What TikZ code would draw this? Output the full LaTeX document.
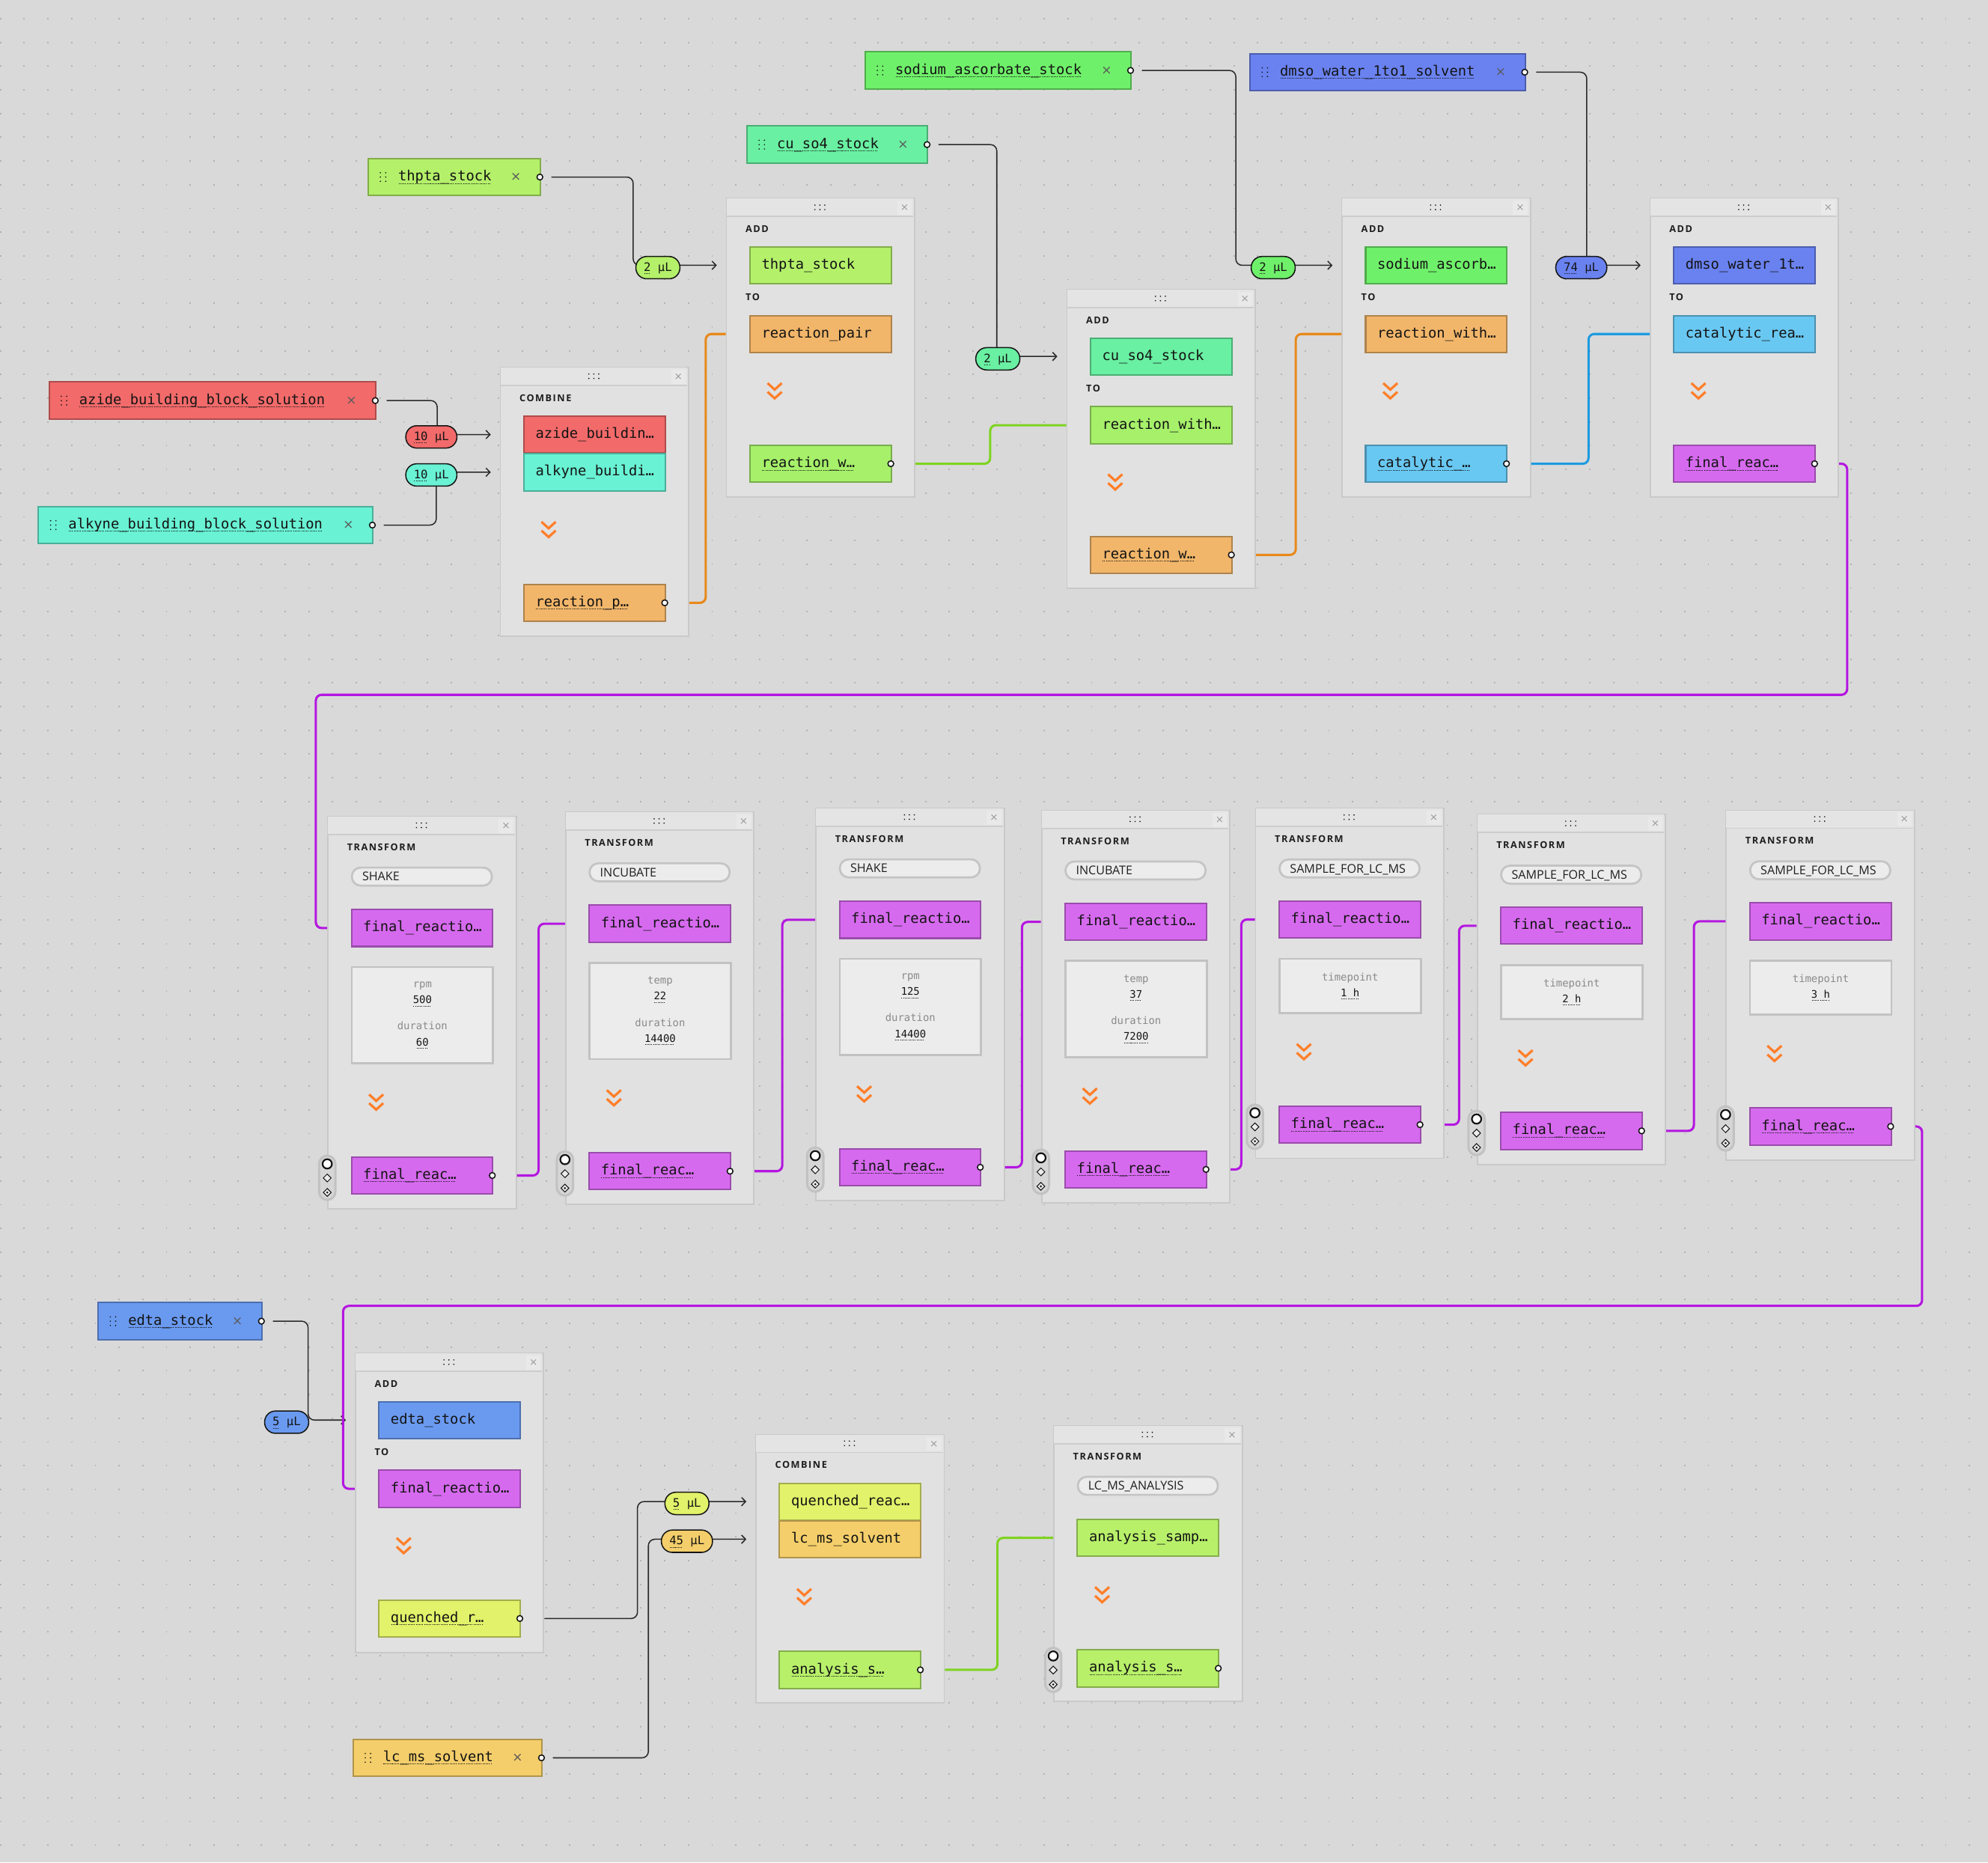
\documentclass[tikz,border=0pt]{standalone}
\usepackage{fontspec}
\setmainfont{DejaVu Sans}
\setmonofont{DejaVu Sans Mono}
\setsansfont{Open Sans}
\newfontfamily\hdrfont[LetterSpace=12]{Open Sans}
\usetikzlibrary{arrows.meta, calc}

\definecolor{bgC}{HTML}{D9D9D9}
\definecolor{dotC}{HTML}{B3B3B3}
\definecolor{cardC}{HTML}{E1E1E1}
\definecolor{cardLine}{HTML}{C9C9C9}
\definecolor{hdrC}{HTML}{E4E4E4}
\definecolor{hdrLine}{HTML}{CDCDCD}
\definecolor{xboxC}{HTML}{E9E9E9}
\definecolor{hdrXC}{HTML}{9A9A9A}
\definecolor{xC}{HTML}{5A5A5A}
\definecolor{inkC}{HTML}{141414}
\definecolor{lblC}{HTML}{1E1E1E}
\definecolor{redC}{HTML}{F26A6A}
\definecolor{aquaC}{HTML}{69F2D4}
\definecolor{limeC}{HTML}{B4F06A}
\definecolor{mintC}{HTML}{69F0A2}
\definecolor{greenC}{HTML}{6FF06A}
\definecolor{blueC}{HTML}{6A82F0}
\definecolor{skyC}{HTML}{69C8F2}
\definecolor{magC}{HTML}{D66AEF}
\definecolor{orangeC}{HTML}{F2B66A}
\definecolor{rgreenC}{HTML}{A6F06A}
\definecolor{edtaC}{HTML}{6A9AF0}
\definecolor{quenchC}{HTML}{E2F26A}
\definecolor{solvC}{HTML}{F4CE6A}
\definecolor{anaC}{HTML}{B8F06A}
\definecolor{wireC}{HTML}{2A2A2A}
\definecolor{wireOr}{HTML}{E8891A}
\definecolor{wireGr}{HTML}{7ED321}
\definecolor{wireBl}{HTML}{1E9BE0}
\definecolor{wireMg}{HTML}{B416E0}
\definecolor{chevC}{HTML}{FF7F2A}
\definecolor{parlC}{HTML}{8A8A8A}
\definecolor{parC}{HTML}{ECECEC}
\definecolor{parLine}{HTML}{C2C2C2}
\definecolor{pillC}{HTML}{ECECEC}
\definecolor{pillLine}{HTML}{C4C4C4}
\definecolor{knobC}{HTML}{D6D6D6}
\definecolor{knobLine}{HTML}{C2C2C2}

% dotted underline
\newsavebox{\dulbox}
\newcommand{\dul}[1]{\sbox{\dulbox}{#1}%
  \rlap{\hbox to \wd\dulbox{\leaders\hbox to 1.3pt{\hss\rule[-2.2pt]{0.6pt}{0.5pt}\hss}\hfill}}%
  \usebox{\dulbox}}

\tikzset{
  card/.style={draw=cardLine, fill=cardC, line width=1.1pt, anchor=north west,
    minimum width=148.5pt, inner sep=0pt},
  hdrx/.style={inner sep=0pt, text=hdrXC, font=\fontsize{8}{9}\selectfont},
  item/.style={draw=#1!72!black, fill=#1, line width=1.2pt, anchor=north west,
    minimum height=29.1pt, text width=93pt, inner xsep=9.25pt, inner ysep=0pt,
    align=left, text height=6pt, text depth=0pt, text=inkC,
    font=\ttfamily\fontsize{11.1}{13}\selectfont},
  stock/.style={draw=#1!72!black, fill=#1, line width=1.2pt, anchor=north west,
    minimum height=29.3pt, inner sep=0pt},
  stocktxt/.style={anchor=west, inner sep=0pt, text height=6pt, text depth=0pt,
    text=inkC, font=\ttfamily\fontsize{11.1}{13}\selectfont},
  stockx/.style={inner sep=0pt, text=xC, font=\fontsize{10}{12}\selectfont},
  amount/.style={draw=inkC, fill=#1, line width=0.9pt, rounded corners=8.6pt,
    minimum height=17.6pt, inner xsep=6.3pt, inner ysep=0pt, text height=5.6pt,
    text depth=0pt, text=inkC, font=\ttfamily\fontsize{9.2}{11}\selectfont},
  oplbl/.style={anchor=west, inner sep=0pt, text height=5.4pt, text depth=0pt,
    text=lblC, font=\hdrfont\bfseries\fontsize{7.5}{9}\selectfont},
  oppill/.style={draw=pillLine, fill=pillC, line width=1.6pt, rounded corners=7pt,
    anchor=north west, minimum width=110.5pt, minimum height=14.2pt, text width=94pt,
    inner xsep=8.25pt, inner ysep=0pt, align=left, text height=6.8pt, text depth=0pt,
    text=lblC, font=\sffamily\fontsize{9.5}{11}\selectfont},
  params/.style={draw=parLine, fill=parC, line width=1.6pt, anchor=north west,
    minimum width=111.5pt, inner sep=0pt, align=center, text=inkC,
    font=\ttfamily\fontsize{8.2}{12.5}\selectfont},
  wire/.style={draw=wireC, line width=0.9pt, rounded corners=5pt},
  flow/.style={draw=#1, line width=1.8pt, rounded corners=4.5pt},
  chev/.style={draw=chevC, line width=1.9pt},
  port/.style={draw=inkC, fill=white, line width=0.9pt},
  knob/.style={draw=knobLine, fill=knobC, line width=1.8pt, rounded corners=6.4pt},
  dotgrid/.style={draw=dotC, line width=1.1pt, dash pattern=on 1.1pt off 17.61pt},
}

\begin{document}
\begin{tikzpicture}[x=1pt, y=-1pt, >={Straight Barb[length=3.2pt,width=6.6pt]}]
% === 0. CANVAS ===
\useasboundingbox (0,0) rectangle (1568,1469);
\fill[bgC] (0,0) rectangle (1568,1469);
\foreach \i in {0,1,...,83}
  \draw[dotgrid] (\i*18.71+0.4,14.15) -- (\i*18.71+0.4,1469);

% === 1. STOCK SOURCES ===
\node[stock=limeC, minimum width=135.9pt] (thpta) at (289.7,124.4) {};
\node[stocktxt] (thpta-t) at ($(thpta.west)+(24.2,0)$) {\dul{thpta\_stock}};
\node[stock=mintC, minimum width=142.6pt] (cuso4) at (588.4,98.8) {};
\node[stocktxt] (cuso4-t) at ($(cuso4.west)+(24.2,0)$) {\dul{cu\_so4\_stock}};
\node[stock=greenC, minimum width=209.8pt] (sodium) at (681.7,40.3) {};
\node[stocktxt] (sodium-t) at ($(sodium.west)+(24.2,0)$) {\dul{sodium\_ascorbate\_stock}};
\node[stock=blueC, minimum width=217.2pt] (dmso) at (985.2,41.7) {};
\node[stocktxt] (dmso-t) at ($(dmso.west)+(24.2,0)$) {\dul{dmso\_water\_1to1\_solvent}};
\node[stock=redC, minimum width=257.7pt] (azide) at (38.1,300.7) {};
\node[stocktxt] (azide-t) at ($(azide.west)+(24.2,0)$) {\dul{azide\_building\_block\_solution}};
\node[stock=aquaC, minimum width=263.9pt] (alkyne) at (29.6,398.9) {};
\node[stocktxt] (alkyne-t) at ($(alkyne.west)+(24.2,0)$) {\dul{alkyne\_building\_block\_solution}};
\node[stock=edtaC, minimum width=129.3pt] (edta) at (76.7,1026.8) {};
\node[stocktxt] (edta-t) at ($(edta.west)+(24.2,0)$) {\dul{edta\_stock}};
\node[stock=solvC, minimum width=149.1pt] (lcms) at (277.8,1371.2) {};
\node[stocktxt] (lcms-t) at ($(lcms.west)+(24.2,0)$) {\dul{lc\_ms\_solvent}};

\foreach \p in {thpta,cuso4,sodium,dmso,azide,alkyne,edta,lcms} {
  \node[stockx] (\p-x) at ($(\p.east)+(-19.9,0)$) {×};
  \foreach \dy in {-3.4,0,3.4}
    \fill[inkC] ($(\p.west)+(10.3,\dy)$) circle[radius=0.55pt]
                ($(\p.west)+(14.5,\dy)$) circle[radius=0.55pt];
}

% === 2. OPERATION CARDS (frame + header) ===
\foreach \n/\x/\y/\h in {A/394.1/289.3/211.7, B/572.4/156.1/235.5, C/841/228/235.5,
    D/1058/156.1/235.5, E/1301/156.1/235.5, F/258.1/643.5/309.3, G/445.6/640.1/309.3,
    H/643/637/309.3, I/821/638.7/309.3, J/989.8/637.1/275.9, K/1164.6/642/275.9,
    L/1361/638.5/275.9, M/279.8/1066.9/235.8, N/595.7/1130.9/211.7, O/830.7/1124/217.4} {
  \node[card, minimum height=\h*1pt] (card\n) at (\x,\y) {};
  \fill[hdrC] (\x+0.6,\y+0.6) rectangle (\x+147.9,\y+14.7);
  \draw[hdrLine, line width=1.1pt] (\x+0.6,\y+14.7) -- (\x+147.9,\y+14.7);
  \fill[xboxC] (\x+135.3,\y+2.3) rectangle (\x+146.7,\y+13.4);
  \node[hdrx] (card\n-x) at (\x+141,\y+7.9) {×};
  \foreach \i in {-1,0,1}
    \fill[inkC] (\x+74.25+\i*3.9,\y+5.7) circle[radius=0.55pt]
                (\x+74.25+\i*3.9,\y+9.2) circle[radius=0.55pt];
}

% === 3. CARD LABELS ===
\node[oplbl] (cardA-op) at (409.6,313.8) {COMBINE};
\node[oplbl] (cardB-op) at (587.9,180.6) {ADD};
\node[oplbl] (cardB-to) at (587.9,234.6) {TO};
\node[oplbl] (cardC-op) at (856.5,252.5) {ADD};
\node[oplbl] (cardC-to) at (856.5,306.5) {TO};
\node[oplbl] (cardD-op) at (1073.5,180.6) {ADD};
\node[oplbl] (cardD-to) at (1073.5,234.6) {TO};
\node[oplbl] (cardE-op) at (1316.5,180.6) {ADD};
\node[oplbl] (cardE-to) at (1316.5,234.6) {TO};
\node[oplbl] (cardF-op) at (273.6,668.2) {TRANSFORM};
\node[oplbl] (cardG-op) at (461.1,664.8) {TRANSFORM};
\node[oplbl] (cardH-op) at (658.5,661.7) {TRANSFORM};
\node[oplbl] (cardI-op) at (836.5,663.4) {TRANSFORM};
\node[oplbl] (cardJ-op) at (1005.3,661.6) {TRANSFORM};
\node[oplbl] (cardK-op) at (1180.1,666.5) {TRANSFORM};
\node[oplbl] (cardL-op) at (1376.5,663) {TRANSFORM};
\node[oplbl] (cardM-op) at (295.3,1091.4) {ADD};
\node[oplbl] (cardM-to) at (295.3,1145.4) {TO};
\node[oplbl] (cardN-op) at (611.2,1155.4) {COMBINE};
\node[oplbl] (cardO-op) at (846.2,1148.6) {TRANSFORM};

% === 4. TRANSFORM KIND PILLS ===
\node[oppill] (fKind) at (276.7,683.5) {SHAKE};
\node[oppill] (gKind) at (464.2,680.1) {INCUBATE};
\node[oppill] (hKind) at (661.6,677) {SHAKE};
\node[oppill] (iKind) at (839.6,678.7) {INCUBATE};
\node[oppill] (jKind) at (1008.4,677.1) {SAMPLE\_FOR\_LC\_MS};
\node[oppill] (kKind) at (1183.2,682) {SAMPLE\_FOR\_LC\_MS};
\node[oppill] (lKind) at (1379.6,678.5) {SAMPLE\_FOR\_LC\_MS};
\node[oppill] (oKind) at (849.3,1164) {LC\_MS\_ANALYSIS};

% === 5. CARD ITEMS ===
\node[item=redC] (aIn1) at (412.6,327.6) {azide\_buildin…};
\node[item=aquaC] (aIn2) at (412.6,357.3) {alkyne\_buildi…};
\node[item=orangeC] (aOut) at (412.6,460.3) {\dul{reaction\_p…}};
\node[item=limeC] (bIn1) at (590.9,194.1) {thpta\_stock};
\node[item=orangeC] (bIn2) at (590.9,248.3) {reaction\_pair};
\node[item=rgreenC] (bOut) at (590.9,350.6) {\dul{reaction\_w…}};
\node[item=mintC] (cIn1) at (859.5,266) {cu\_so4\_stock};
\node[item=rgreenC] (cIn2) at (859.5,320.2) {reaction\_with…};
\node[item=orangeC] (cOut) at (859.5,422.5) {\dul{reaction\_w…}};
\node[item=greenC] (dIn1) at (1076.5,194.1) {sodium\_ascorb…};
\node[item=orangeC] (dIn2) at (1076.5,248.3) {reaction\_with…};
\node[item=skyC] (dOut) at (1076.5,350.6) {\dul{catalytic\_…}};
\node[item=blueC] (eIn1) at (1319.5,194.1) {dmso\_water\_1t…};
\node[item=skyC] (eIn2) at (1319.5,248.3) {catalytic\_rea…};
\node[item=magC] (eOut) at (1319.5,350.6) {\dul{final\_reac…}};
\node[item=magC] (fIn1) at (276.6,716.8) {final\_reactio…};
\node[item=magC] (fOut) at (276.6,912) {\dul{final\_reac…}};
\node[item=magC] (gIn1) at (464.1,713.4) {final\_reactio…};
\node[item=magC] (gOut) at (464.1,908.6) {\dul{final\_reac…}};
\node[item=magC] (hIn1) at (661.5,710.3) {final\_reactio…};
\node[item=magC] (hOut) at (661.5,905.5) {\dul{final\_reac…}};
\node[item=magC] (iIn1) at (839.5,712) {final\_reactio…};
\node[item=magC] (iOut) at (839.5,907.2) {\dul{final\_reac…}};
\node[item=magC] (jIn1) at (1008.3,710.1) {final\_reactio…};
\node[item=magC] (jOut) at (1008.3,871.9) {\dul{final\_reac…}};
\node[item=magC] (kIn1) at (1183.1,715) {final\_reactio…};
\node[item=magC] (kOut) at (1183.1,876.8) {\dul{final\_reac…}};
\node[item=magC] (lIn1) at (1379.5,711.5) {final\_reactio…};
\node[item=magC] (lOut) at (1379.5,873.3) {\dul{final\_reac…}};
\node[item=edtaC] (mIn1) at (298.3,1104.9) {edta\_stock};
\node[item=magC] (mIn2) at (298.3,1159.1) {final\_reactio…};
\node[item=quenchC] (mOut) at (298.3,1261.4) {\dul{quenched\_r…}};
\node[item=quenchC] (nIn1) at (614.2,1169.2) {quenched\_reac…};
\node[item=solvC] (nIn2) at (614.2,1198.9) {lc\_ms\_solvent};
\node[item=anaC] (nOut) at (614.2,1301.9) {\dul{analysis\_s…}};
\node[item=anaC] (oIn1) at (849.2,1197.8) {analysis\_samp…};
\node[item=anaC] (oOut) at (849.2,1300.7) {\dul{analysis\_s…}};

% === 6. PARAMETERS ===
\node[params, minimum height=76pt] (fPar) at (276.6,761.9)
  {{\color{parlC}rpm}\\\dul{500}\\[8.3pt]{\color{parlC}duration}\\\dul{60}};
\node[params, minimum height=76pt] (gPar) at (464.1,758.5)
  {{\color{parlC}temp}\\\dul{22}\\[8.3pt]{\color{parlC}duration}\\\dul{14400}};
\node[params, minimum height=76pt] (hPar) at (661.5,755.4)
  {{\color{parlC}rpm}\\\dul{125}\\[8.3pt]{\color{parlC}duration}\\\dul{14400}};
\node[params, minimum height=76pt] (iPar) at (839.5,757.1)
  {{\color{parlC}temp}\\\dul{37}\\[8.3pt]{\color{parlC}duration}\\\dul{7200}};
\node[params, minimum height=42.6pt] (jPar) at (1008.3,755.5)
  {{\color{parlC}timepoint}\\\dul{1 h}};
\node[params, minimum height=42.6pt] (kPar) at (1183.1,760.4)
  {{\color{parlC}timepoint}\\\dul{2 h}};
\node[params, minimum height=42.6pt] (lPar) at (1379.5,756.9)
  {{\color{parlC}timepoint}\\\dul{3 h}};

% === 7. CHEVRONS ===
\foreach \x/\y in {432.7/417.9, 611/308.5, 879.6/380.4, 1096.6/308.5, 1339.6/308.5,
    296.7/869.5, 484.2/866.1, 681.6/863, 859.6/864.7, 1028.4/829.7, 1203.2/834.6,
    1399.6/831.1, 318.4/1219.3, 634.3/1259.5, 869.3/1258} {
  \draw[chev] (\x-5.6,\y-6.3) -- (\x,\y-1.2) -- (\x+5.6,\y-6.3);
  \draw[chev] (\x-5.6,\y+0.6) -- (\x,\y+5.7) -- (\x+5.6,\y+0.6);
}

% === 8. KNOBS ON TRANSFORM CARDS ===
\foreach \x/\y in {258.1/911.6, 445.6/908.2, 643/905.1, 821/906.8, 989.8/871.3,
    1164.6/876.2, 1361/872.7, 830.7/1299.7} {
  \draw[knob] (\x-6.4,\y) rectangle (\x+6.4,\y+34.8);
  \draw[port, line width=1.3pt] (\x,\y+6.4) circle[radius=3.7pt];
  \draw[inkC, fill=parC, line width=0.6pt] (\x,\y+14.4) -- (\x+3.1,\y+17.5)
    -- (\x,\y+20.6) -- (\x-3.1,\y+17.5) -- cycle;
  \draw[inkC, fill=parC, line width=0.6pt] (\x,\y+25.8) -- (\x+3.1,\y+28.9)
    -- (\x,\y+32) -- (\x-3.1,\y+28.9) -- cycle;
  \fill[inkC] (\x,\y+28.9) circle[radius=0.9pt];
}

% === 9. FEED WIRES (stock -> card) ===
\draw[wire, ->] ($(thpta.east)+(8,0)$) -| (499.4,0 |- bIn1) -- ($(cardB.west |- bIn1)+(-7,0)$);
\draw[wire, ->] ($(cuso4.east)+(8,0)$) -| (786.2,0 |- cIn1) -- ($(cardC.west |- cIn1)+(-7,0)$);
\draw[wire, ->] ($(sodium.east)+(8,0)$) -| (974.7,0 |- dIn1) -- ($(cardD.west |- dIn1)+(-7,0)$);
\draw[wire, ->] ($(dmso.east)+(8,0)$) -| (1251.5,0 |- eIn1) -- ($(cardE.west |- eIn1)+(-7,0)$);
\draw[wire, ->] ($(azide.east)+(8,0)$) -| (344.8,0 |- aIn1) -- ($(cardA.west |- aIn1)+(-7,0)$);
\draw[wire, ->] ($(alkyne.east)+(8,0)$) -| (344.1,0 |- aIn2) -- ($(cardA.west |- aIn2)+(-7,0)$);
\draw[wire, ->] ($(edta.east)+(8,0)$) -| (243,0 |- mIn1) -- ($(cardM.west |- mIn1)+(-7,0)$);
\draw[wire, ->] (cardM.east |- mOut) -| (502.8,0 |- nIn1) -- ($(cardN.west |- nIn1)+(-7,0)$);
\draw[wire, ->] ($(lcms.east)+(8,0)$) -| (511.4,0 |- nIn2) -- ($(cardN.west |- nIn2)+(-7,0)$);

% === 10. FLOW WIRES (card -> card) ===
\draw[flow=wireOr] (cardA.east |- aOut) -| (556.6,0 |- bIn2) -- (cardB.west |- bIn2);
\draw[flow=wireGr] (cardB.east |- bOut) -| (781,0 |- cIn2) -- (cardC.west |- cIn2);
\draw[flow=wireOr] (cardC.east |- cOut) -| (1022,0 |- dIn2) -- (cardD.west |- dIn2);
\draw[flow=wireBl] (cardD.east |- dOut) -| (1252.9,0 |- eIn2) -- (cardE.west |- eIn2);
\draw[flow=wireMg] (cardE.east |- eOut) -| (1456.9,548) -| (249.1,0 |- fIn1) -- (cardF.west |- fIn1);
\draw[flow=wireMg] (cardF.east |- fOut) -| (424.8,0 |- gIn1) -- (cardG.west |- gIn1);
\draw[flow=wireMg] (cardG.east |- gOut) -| (617,0 |- hIn1) -- (cardH.west |- hIn1);
\draw[flow=wireMg] (cardH.east |- hOut) -| (806,0 |- iIn1) -- (cardI.west |- iIn1);
\draw[flow=wireMg] (cardI.east |- iOut) -| (979,0 |- jIn1) -- (cardJ.west |- jIn1);
\draw[flow=wireMg] (cardJ.east |- jOut) -| (1150.8,0 |- kIn1) -- (cardK.west |- kIn1);
\draw[flow=wireMg] (cardK.east |- kOut) -| (1336,0 |- lIn1) -- (cardL.west |- lIn1);
\draw[flow=wireMg] (cardL.east |- lOut) -| (1516,1030) -| (270.6,0 |- mIn2) -- (cardM.west |- mIn2);
\draw[flow=wireGr] (cardN.east |- nOut) -| (786.7,0 |- oIn1) -- (cardO.west |- oIn1);

% === 11. PORTS ===
\foreach \p in {thpta,cuso4,sodium,dmso,azide,alkyne,edta,lcms,aOut,bOut,cOut,dOut,
    eOut,fOut,gOut,hOut,iOut,jOut,kOut,lOut,mOut,nOut,oOut}
  \draw[port] ($(\p.east)+(-1,0)$) circle[radius=2.3pt];

% === 12. AMOUNTS ===
\node[amount=limeC] (thptaAmt) at (518.9,211.1) {\dul{2} µL};
\node[amount=mintC] (cuso4Amt) at (787,283) {\dul{2} µL};
\node[amount=greenC] (sodiumAmt) at (1004.2,211.1) {\dul{2} µL};
\node[amount=blueC] (dmsoAmt) at (1247.2,211.1) {\dul{74} µL};
\node[amount=redC] (azideAmt) at (340.2,344.6) {\dul{10} µL};
\node[amount=aquaC] (alkyneAmt) at (340.2,374.6) {\dul{10} µL};
\node[amount=edtaC] (edtaAmt) at (226.1,1121.7) {\dul{5} µL};
\node[amount=quenchC] (quenchAmt) at (541.8,1185.8) {\dul{5} µL};
\node[amount=solvC] (solvAmt) at (541.8,1215.6) {\dul{45} µL};
\end{tikzpicture}
\end{document}
